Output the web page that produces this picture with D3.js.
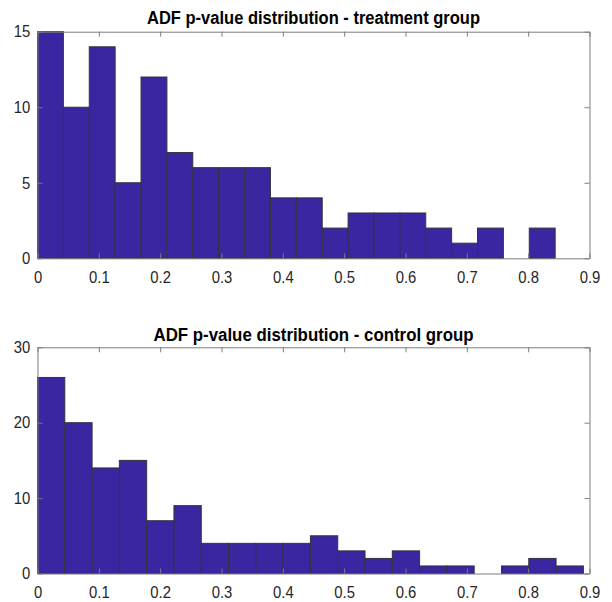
<!DOCTYPE html>
<html>
<head>
<meta charset="utf-8">
<script src="https://cdn.jsdelivr.net/npm/d3@7"></script>
<style>
  body { margin: 0; background: #fff; }
  text { font-family: "Liberation Sans", Arial, sans-serif; }
</style>
</head>
<body>
<div id="chart"></div>
<script>
// histogram counts (20 bins each, starting at 0)
const treatmentCounts = [15, 10, 14, 5, 12, 7, 6, 6, 6, 4, 4, 2, 3, 3, 3, 2, 1, 2, 0, 2];
const controlCounts = [26, 20, 14, 15, 7, 9, 4, 4, 4, 4, 5, 3, 2, 3, 1, 1, 0, 1, 2, 1];
const treatmentBinWidth = 0.0422;
const controlBinWidth = 0.0445;

const xTicks = [0, 0.1, 0.2, 0.3, 0.4, 0.5, 0.6, 0.7, 0.8, 0.9];
const treatmentYTicks = [0, 5, 10, 15];
const controlYTicks = [0, 10, 20, 30];
const titles = ["ADF p-value distribution - treatment group", "ADF p-value distribution - control group"];

const W = 612, H = 602;
const svg = d3.select('#chart').append('svg')
  .attr('width', W)
  .attr('height', H);

svg.append('rect').attr('width', W).attr('height', H).attr('fill', '#fff');

const left = 37.5, right = 589.5;

function drawHist(opts) {
  const x = d3.scaleLinear().domain([0, 0.9]).range([left, right]);
  const y = d3.scaleLinear().domain([0, opts.yMax]).range([opts.bottom, opts.top]);
  const g = svg.append('g');

  // bars
  g.selectAll('rect.bar')
    .data(opts.counts)
    .enter()
    .append('rect')
    .attr('class', 'bar')
    .attr('x', (d, i) => x(i * opts.binWidth))
    .attr('y', d => y(d))
    .attr('width', x(opts.binWidth) - x(0))
    .attr('height', d => y(0) - y(d))
    .attr('fill', '#3a26a0')
    .attr('stroke', '#33333d')
    .attr('stroke-width', 1);

  const fmt = d => d === 0 ? '0' : d3.format('.1f')(d);

  // axes, ticks pointing inward like MATLAB
  const xb = g.append('g')
    .attr('transform', `translate(0,${opts.bottom})`)
    .call(d3.axisBottom(x).tickValues(xTicks).tickFormat(fmt).tickSizeInner(-5).tickSizeOuter(0).tickPadding(13));
  const xt = g.append('g')
    .attr('transform', `translate(0,${opts.top})`)
    .call(d3.axisTop(x).tickValues(xTicks).tickFormat('').tickSizeInner(-5).tickSizeOuter(0));
  const yl = g.append('g')
    .attr('transform', `translate(${left},0)`)
    .call(d3.axisLeft(y).tickValues(opts.yTicks).tickSizeInner(-5).tickSizeOuter(0).tickPadding(8));
  const yr = g.append('g')
    .attr('transform', `translate(${right},0)`)
    .call(d3.axisRight(y).tickValues(opts.yTicks).tickFormat('').tickSizeInner(-5).tickSizeOuter(0));

  [xb, xt, yl, yr].forEach(a => {
    a.selectAll('path, line').attr('stroke', '#7d7d7d');
    a.selectAll('text')
      .attr('fill', '#262626')
      .attr('transform', 'scale(0.9,1)')
      .style('font-size', '16.5px');
  });

  g.append('text')
    .attr('x', (left + right) / 2)
    .attr('y', opts.titleY)
    .attr('text-anchor', 'middle')
    .attr('textLength', opts.titleLen)
    .attr('lengthAdjust', 'spacingAndGlyphs')
    .style('font-size', '18px')
    .style('font-weight', 'bold')
    .attr('fill', '#000')
    .text(opts.title);
}

drawHist({
  counts: treatmentCounts, binWidth: treatmentBinWidth, yMax: 15, yTicks: treatmentYTicks,
  top: 31.7, bottom: 258.3, title: titles[0], titleY: 24, titleLen: 333
});

drawHist({
  counts: controlCounts, binWidth: controlBinWidth, yMax: 30, yTicks: controlYTicks,
  top: 347.3, bottom: 573.5, title: titles[1], titleY: 341, titleLen: 320
});
</script>
</body>
</html>
